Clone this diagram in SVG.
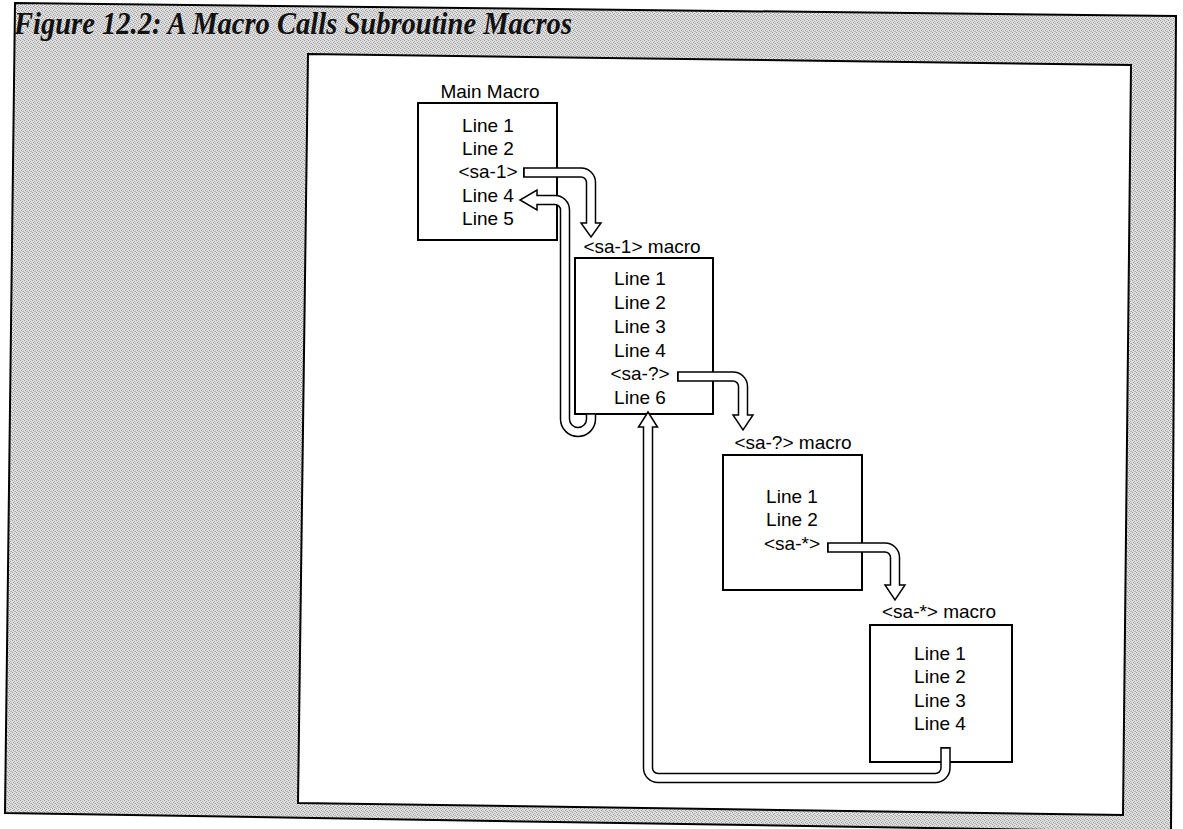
<svg xmlns="http://www.w3.org/2000/svg" width="1183" height="829" viewBox="0 0 1183 829">
<style>
.lbl{font-family:"Liberation Sans",Arial,sans-serif;font-size:19px;fill:#000;text-anchor:middle}
.box{fill:#fff;stroke:#000;stroke-width:2}
.bo{fill:none;stroke:#000;stroke-width:10.5;stroke-linejoin:round}
.bi{fill:none;stroke:#fff;stroke-width:7.5;stroke-linejoin:round}
.hd{fill:#fff;stroke:#000;stroke-width:1.5;stroke-linejoin:miter}
</style>
<defs>
<pattern id="grain" width="4" height="4" patternUnits="userSpaceOnUse">
<rect width="4" height="4" fill="#dedede"/>
<rect x="0" y="0" width="1" height="1" fill="#9c9c9c"/>
<rect x="2" y="1" width="1" height="1" fill="#a8a8a8"/>
<rect x="1" y="2" width="1" height="1" fill="#9c9c9c"/>
<rect x="3" y="3" width="1" height="1" fill="#a8a8a8"/>
<rect x="2" y="3" width="1" height="1" fill="#c4c4c4"/>
</pattern>
</defs>
<rect width="1183" height="829" fill="#fff"/>
<polygon points="15,3 1176,16 1171,832 5,813" fill="url(#grain)" stroke="#000" stroke-width="2"/>
<text x="14" y="34" font-family="'Liberation Serif','Times New Roman',serif" font-weight="bold" font-style="italic" font-size="32" textLength="558" lengthAdjust="spacingAndGlyphs" fill="#111">Figure 12.2: A Macro Calls Subroutine Macros</text>
<polygon points="308,54 1131,65 1123,815 298,803" fill="#fff" stroke="#000" stroke-width="2"/>

<g id="main-macro">
<text class="lbl" x="490" y="98">Main Macro</text>
<rect class="box" x="418" y="103" width="139" height="137"/>
<text class="lbl" x="488" y="132">Line 1</text>
<text class="lbl" x="488" y="155">Line 2</text>
<text class="lbl" x="488" y="178">&lt;sa-1&gt;</text>
<text class="lbl" x="488" y="202">Line 4</text>
<text class="lbl" x="488" y="225">Line 5</text>
</g>

<g id="sa1-macro">
<text class="lbl" x="642" y="253">&lt;sa-1&gt; macro</text>
<rect class="box" x="575" y="258" width="138" height="156"/>
<text class="lbl" x="640" y="285">Line 1</text>
<text class="lbl" x="640" y="309">Line 2</text>
<text class="lbl" x="640" y="333">Line 3</text>
<text class="lbl" x="640" y="357">Line 4</text>
<text class="lbl" x="640" y="380">&lt;sa-?&gt;</text>
<text class="lbl" x="640" y="404">Line 6</text>
</g>

<g id="saq-macro">
<text class="lbl" x="793" y="449">&lt;sa-?&gt; macro</text>
<rect class="box" x="723" y="455" width="139" height="135"/>
<text class="lbl" x="792" y="503">Line 1</text>
<text class="lbl" x="792" y="526">Line 2</text>
<text class="lbl" x="792" y="550">&lt;sa-*&gt;</text>
</g>

<g id="sastar-macro">
<text class="lbl" x="939" y="618">&lt;sa-*&gt; macro</text>
<rect class="box" x="870" y="625" width="142" height="137"/>
<text class="lbl" x="940" y="660">Line 1</text>
<text class="lbl" x="940" y="683">Line 2</text>
<text class="lbl" x="940" y="707">Line 3</text>
<text class="lbl" x="940" y="730">Line 4</text>
</g>

<g id="connectors">
<path class="bo" d="M523,172.5 H581 A10,10 0 0 1 591,182.5 V224"/>
<polygon class="hd" points="581,223 601,223 591,237"/>
<path class="bi" d="M524.8,172.5 H581 A10,10 0 0 1 591,182.5 V225"/>
<path class="bo" d="M591,413 V419 A13,13 0 0 1 565,419 V210 A10,10 0 0 0 555,200 H536"/>
<polygon class="hd" points="537,190 537,210 520,200"/>
<path class="bi" d="M591,414.8 V419 A13,13 0 0 1 565,419 V210 A10,10 0 0 0 555,200 H535"/>
<path class="bo" d="M677,376.5 H733 A10,10 0 0 1 743,386.5 V416"/>
<polygon class="hd" points="733,415 753,415 743,430"/>
<path class="bi" d="M678.8,376.5 H733 A10,10 0 0 1 743,386.5 V417"/>
<path class="bo" d="M827,547.5 H885 A10,10 0 0 1 895,557.5 V586"/>
<polygon class="hd" points="885,585 905,585 895,600"/>
<path class="bi" d="M828.8,547.5 H885 A10,10 0 0 1 895,557.5 V587"/>
<path class="bo" d="M945.5,747 V768 A10,10 0 0 1 935.5,778 H658 A10,10 0 0 1 648,768 V426"/>
<polygon class="hd" points="638.5,427 657.5,427 648,412"/>
<path class="bi" d="M945.5,748.8 V768 A10,10 0 0 1 935.5,778 H658 A10,10 0 0 1 648,768 V425"/>
</g>
</svg>
